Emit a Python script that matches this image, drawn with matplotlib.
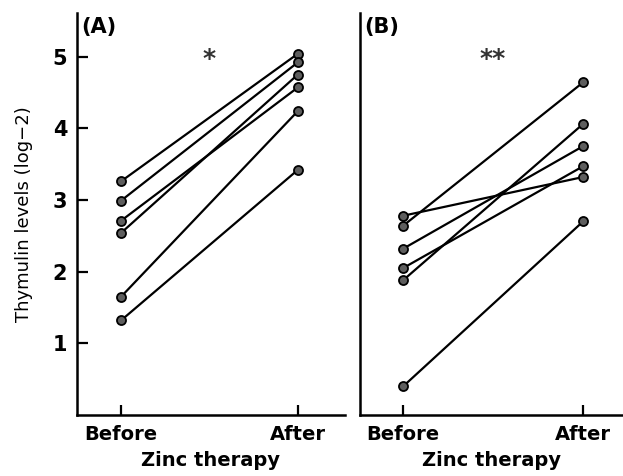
import matplotlib
matplotlib.use('Agg')
import matplotlib.pyplot as plt

plt.rcParams['font.family'] = ['DejaVu Sans']

stages = ['Before', 'After']

# thymulin levels (log-2) for each patient, before and after zinc
a_before = [3.26, 2.99, 2.71, 2.54, 1.65, 1.32]
a_after = [5.04, 4.92, 4.57, 4.75, 4.24, 3.42]

b_before = [2.78, 2.64, 2.32, 2.05, 1.88, 0.40]
b_after = [3.32, 4.64, 3.75, 3.47, 4.06, 2.70]

fig = plt.figure(figsize=(6.23, 4.76), dpi=100)
ax_a = fig.add_axes([0.1236, 0.128, 0.430, 0.845])
ax_b = fig.add_axes([0.578, 0.128, 0.422, 0.845])


def draw_panel(ax, before, after, tag, stars, xlim):
    for b, a in zip(before, after):
        ax.plot([0, 1], [b, a], color='black', lw=1.6,
                marker='o', ms=6.5, mfc='#5e5e5e', mec='black', mew=1.3)
    ax.set_xlim(*xlim)
    ax.set_ylim(0, 5.61)
    for side in ['top', 'right']:
        ax.spines[side].set_visible(False)
    for side in ['left', 'bottom']:
        ax.spines[side].set_linewidth(1.8)
    ax.set_xticks([0, 1])
    ax.set_xticklabels(stages, fontsize=14, fontweight='bold')
    ax.tick_params(axis='x', direction='in', length=7, width=1.6, pad=7)
    ax.set_xlabel('Zinc therapy', fontsize=14, fontweight='bold', labelpad=5)
    ax.text(0.015, 0.99, tag, transform=ax.transAxes, fontsize=15,
            fontweight='bold', va='top', ha='left')
    ax.text(0.5, 4.96, stars, fontsize=18, fontweight='bold', ha='center',
            va='center', color='#333333')


draw_panel(ax_a, a_before, a_after, '(A)', '*', (-0.249, 1.266))
draw_panel(ax_b, b_before, b_after, '(B)', '**', (-0.239, 1.222))

ax_a.set_yticks([1, 2, 3, 4, 5])
ax_a.set_yticklabels(['1', '2', '3', '4', '5'], fontsize=15, fontweight='bold')
ax_a.tick_params(axis='y', direction='in', length=8, width=1.6, pad=7)
ax_a.set_ylabel('Thymulin levels (log\u22122)', fontsize=13, labelpad=14)

ax_b.set_yticks([])

fig.savefig('out.png', dpi=100)
